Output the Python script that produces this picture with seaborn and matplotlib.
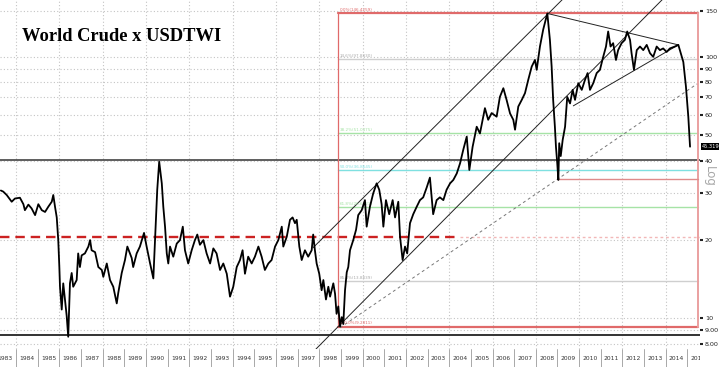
import numpy as np
import matplotlib
matplotlib.use("Agg")
import matplotlib.pyplot as plt
import seaborn as sns
from matplotlib.ticker import NullLocator, FixedLocator

# world crude x usd trade weighted index
years = [
    1983.30, 1983.41, 1983.57, 1983.80, 1983.95, 1984.18, 1984.34, 1984.41, 1984.57, 1984.72,
    1984.88, 1985.03, 1985.19, 1985.34, 1985.49, 1985.65, 1985.72, 1985.80, 1985.88, 1985.95,
    1986.00, 1986.03, 1986.11, 1986.18, 1986.26, 1986.34, 1986.41, 1986.49, 1986.57, 1986.64,
    1986.80, 1986.87, 1986.95, 1987.03, 1987.18, 1987.34, 1987.42, 1987.49, 1987.65, 1987.80,
    1987.96, 1988.03, 1988.19, 1988.34, 1988.49, 1988.65, 1988.72, 1988.88, 1989.03, 1989.14,
    1989.26, 1989.34, 1989.41, 1989.57, 1989.72, 1989.91, 1990.03, 1990.19, 1990.34, 1990.42,
    1990.52, 1990.61, 1990.73, 1990.80, 1990.88, 1990.96, 1991.03, 1991.11, 1991.26, 1991.42,
    1991.57, 1991.70, 1991.80, 1991.95, 1992.11, 1992.26, 1992.37, 1992.49, 1992.65, 1992.80,
    1992.96, 1993.11, 1993.26, 1993.42, 1993.57, 1993.73, 1993.88, 1994.03, 1994.19, 1994.34,
    1994.46, 1994.57, 1994.72, 1994.88, 1995.03, 1995.19, 1995.34, 1995.49, 1995.65, 1995.80,
    1995.96, 1996.11, 1996.27, 1996.34, 1996.50, 1996.65, 1996.77, 1996.88, 1996.96, 1997.08,
    1997.19, 1997.34, 1997.49, 1997.65, 1997.72, 1997.80, 1997.88, 1998.00, 1998.11, 1998.19,
    1998.31, 1998.42, 1998.50, 1998.65, 1998.73, 1998.80, 1998.88, 1998.96, 1999.04, 1999.11,
    1999.19, 1999.27, 1999.34, 1999.42, 1999.57, 1999.70, 1999.80, 1999.96, 2000.11, 2000.19,
    2000.34, 2000.49, 2000.65, 2000.77, 2000.88, 2000.96, 2001.08, 2001.23, 2001.39, 2001.50,
    2001.65, 2001.73, 2001.85, 2001.96, 2002.06, 2002.19, 2002.34, 2002.50, 2002.65, 2002.80,
    2002.96, 2003.11, 2003.26, 2003.42, 2003.57, 2003.73, 2003.88, 2004.04, 2004.19, 2004.35,
    2004.50, 2004.65, 2004.81, 2004.93, 2005.08, 2005.27, 2005.42, 2005.65, 2005.80, 2005.96,
    2006.19, 2006.34, 2006.50, 2006.65, 2006.81, 2006.96, 2007.04, 2007.19, 2007.35, 2007.50,
    2007.65, 2007.81, 2007.96, 2008.04, 2008.19, 2008.34, 2008.53, 2008.65, 2008.73, 2008.80,
    2008.88, 2008.93, 2008.99, 2009.04, 2009.08, 2009.15, 2009.24, 2009.35, 2009.45, 2009.58,
    2009.70, 2009.81, 2009.96, 2010.12, 2010.27, 2010.39, 2010.50, 2010.65, 2010.81, 2010.96,
    2011.11, 2011.24, 2011.34, 2011.45, 2011.57, 2011.70, 2011.80, 2011.96, 2012.11, 2012.22,
    2012.35, 2012.42, 2012.53, 2012.66, 2012.81, 2012.96, 2013.12, 2013.27, 2013.42, 2013.58,
    2013.73, 2013.88, 2014.04, 2014.19, 2014.42, 2014.58, 2014.69, 2014.81, 2014.93, 2015.04,
    2015.12,
]
prices = [
    30.8, 30.5, 29.6, 27.9, 28.7, 28.9, 27.3, 25.9, 27.2, 26.3,
    24.8, 27.3, 25.9, 25.5, 26.7, 27.9, 29.6, 26.7, 24.3, 19.9,
    15.7, 13.2, 10.8, 13.6, 11.8, 10.2, 8.5, 13.6, 14.9, 13.2,
    14.0, 17.7, 15.7, 17.4, 17.7, 18.8, 19.9, 18.2, 17.9, 15.7,
    15.3, 14.4, 16.2, 14.0, 13.2, 11.4, 12.5, 14.9, 16.7, 18.8,
    17.7, 17.0, 15.7, 17.7, 18.8, 21.2, 18.8, 16.2, 14.2, 19.9,
    31.0, 39.7, 32.8, 26.7, 22.4, 17.7, 16.2, 18.8, 17.2, 19.3,
    19.9, 22.4, 18.2, 16.2, 18.2, 19.9, 20.9, 19.1, 19.9, 17.7,
    16.2, 18.5, 17.7, 15.3, 16.2, 14.8, 12.1, 13.2, 15.7, 16.7,
    18.2, 14.8, 17.2, 16.2, 17.2, 18.8, 17.2, 15.3, 16.2, 16.7,
    18.8, 19.9, 22.4, 18.8, 20.5, 23.8, 24.3, 23.1, 23.8, 18.8,
    16.7, 18.2, 17.2, 18.2, 20.9, 18.2, 16.2, 14.8, 12.8, 14.0,
    11.8, 13.2, 12.1, 13.6, 12.4, 10.4, 11.1, 9.3, 10.1, 9.5,
    12.8, 15.0, 15.7, 18.2, 19.9, 21.8, 24.8, 25.9, 28.3, 22.4,
    26.7, 30.0, 32.8, 31.0, 27.3, 22.4, 28.3, 25.0, 28.3, 24.3,
    27.9, 20.5, 16.7, 18.8, 17.7, 23.1, 25.0, 26.7, 28.3, 29.0,
    31.6, 34.5, 25.0, 28.3, 29.0, 28.3, 31.0, 32.8, 33.8, 35.8,
    39.1, 44.1, 49.5, 36.9, 45.2, 54.0, 50.9, 63.6, 57.4, 60.9,
    59.0, 70.2, 75.8, 68.4, 60.7, 57.4, 52.6, 64.5, 68.4, 72.6,
    81.6, 91.7, 97.2, 89.1, 109.4, 127.0, 146.4, 116.0, 91.7, 68.4,
    54.0, 45.2, 39.1, 33.8, 46.7, 41.7, 48.1, 54.0, 70.2, 66.3,
    74.7, 68.4, 79.2, 74.7, 81.6, 86.6, 74.7, 79.2, 86.6, 89.1,
    99.9, 109.4, 124.9, 109.4, 112.7, 97.2, 106.0, 112.7, 116.0, 124.9,
    116.0, 103.2, 89.1, 106.0, 109.4, 106.0, 111.0, 103.2, 99.9, 109.4,
    106.0, 107.6, 104.3, 107.6, 109.4, 111.0, 103.2, 95.5, 77.0, 59.0,
    45.3,
]

# right axis ticks
tick_vals = [150, 100, 90, 80, 70, 60, 50, 40, 30, 20, 10, 9, 8]
tick_text = ["150", "100", "90", "80", "70", "60", "50", "40", "30", "20", "10", "9.00", "8.00"]

# fibonacci box (1998 low -> 2008 high), log retracement
fib_low, fib_high = 9.2811, 146.4259
fib_start, fib_end = 1998.86, 2015.49
fib_levels = [0.0, 14.6, 38.2, 50.0, 61.8, 85.4, 100.0]
fib_colors = ["#e06a6a", "#cfcfcf", "#a6e3a6", "#7fe0e0", "#a6e3a6", "#cfcfcf", "#e06a6a"]

# trend lines (year, value) pairs
upper_channel = ([1997.71, 2009.67], [18.6, 180.0])
lower_channel = ([1997.85, 2014.28], [7.63, 180.0])
dashed_trend = ([1998.96, 2015.44], [9.2, 78.7])
tri_top = ([2008.53, 2014.58], [146.4, 111.0])
tri_bottom = ([2009.73, 2014.58], [64.9, 111.0])

last_price = 45.319

sns.set_style("white")
plt.rcParams['font.family'] = ['DejaVu Sans']

fig = plt.figure(figsize=(7.19, 3.67), dpi=100)
ax = fig.add_axes([0, 18 / 367, 700 / 719, 349 / 367])

ax.set_yscale('log')
ax.set_xlim(1983.26, 2015.58)
ax.set_ylim(7.63, 164.8)

# grid
ax.set_xticks(np.arange(1984, 2016, 2))
ax.xaxis.set_minor_locator(NullLocator())
ax.yaxis.set_major_locator(FixedLocator(tick_vals))
ax.yaxis.set_minor_locator(NullLocator())
ax.grid(True, which='major', ls=(0, (1, 2)), color='#c4c4c4', lw=0.8)
ax.tick_params(axis='x', length=0, labelbottom=False)
ax.yaxis.tick_right()
ax.set_yticklabels(tick_text)
ax.tick_params(axis='y', length=2, width=1.5, pad=1.5, labelsize=4.6, colors='#222222')
for s in ax.spines.values():
    s.set_visible(False)

# horizontal support lines
ax.axhline(40.2, color='#333333', lw=1.1)
ax.axhline(8.6, color='#333333', lw=1.4)
ax.plot([1983.26, 2004.5], [20.4, 20.4], color='#cc2222', lw=1.7, ls=(0, (4, 2.5)))
ax.plot([2004.5, 2015.58], [20.4, 20.4], color='#f2b8b8', lw=1.0, ls=(0, (2, 2)))

# fib box
ratio = fib_low / fib_high
for lev, col in zip(fib_levels, fib_colors):
    val = fib_high * ratio ** (lev / 100)
    lw = 1.6 if lev in (0.0, 100.0) else 1.0
    ax.plot([fib_start, fib_end], [val, val], color=col, lw=lw)
    ax.text(fib_start + 0.1, val * 1.012, f"{lev:.1f}%({val:.4f})", fontsize=3,
            color=col if col != "#cfcfcf" else "#aaaaaa", va='bottom', ha='left')
ax.plot([fib_start, fib_start], [fib_low, fib_high], color='#e06a6a', lw=0.9)
ax.plot([fib_end, fib_end], [fib_low, fib_high], color='#eaa0a0', lw=1.4)
ax.plot([2009.0, fib_end], [34.1, 34.1], color='#e08a8a', lw=1.0)

# trend lines
ax.plot(*upper_channel, color='#222222', lw=0.7)
ax.plot(*lower_channel, color='#222222', lw=0.7)
ax.plot(*dashed_trend, color='#777777', lw=0.7, ls=(0, (3, 3)))
ax.plot(*tri_top, color='#222222', lw=0.7)
ax.plot(*tri_bottom, color='#222222', lw=0.7)

sns.lineplot(x=years, y=prices, ax=ax, color='black', lw=1.3, zorder=5)
ax.set_xlabel("")
ax.set_ylabel("")

ax.text(0.031, 0.895, "World Crude x USDTWI", transform=ax.transAxes,
        fontsize=13.3, fontweight='bold', family='Liberation Serif', color='black',
        va='center', ha='left')

ax.annotate(f"{last_price:.3f}", xy=(1.0, last_price), xycoords=('axes fraction', 'data'),
            xytext=(1.2, 0), textcoords='offset points', ha='left', va='center',
            fontsize=3.7, color='white', annotation_clip=False,
            bbox=dict(boxstyle='square,pad=0.15', fc='black', ec='none'))

fig.text(709 / 719, 1 - 176 / 367, "Log", rotation=270, fontsize=8.5, color='#a8a8a8',
         ha='center', va='center')

# year strip along the bottom
sx = fig.add_axes([0, 0, 700 / 719, 18 / 367])
sx.set_xlim(1983.26, 2015.58)
sx.set_ylim(0, 1)
sx.axis('off')
for yr in range(1984, 2016):
    sx.axvline(yr, color='#9a9a9a', lw=0.6)
for yr in range(1983, 2016):
    sx.text(yr + 0.5, 0.45, str(yr), ha='center', va='center', fontsize=4.3,
            color='#333333', clip_on=True)

fig.savefig("out.png", dpi=100, facecolor='white')
